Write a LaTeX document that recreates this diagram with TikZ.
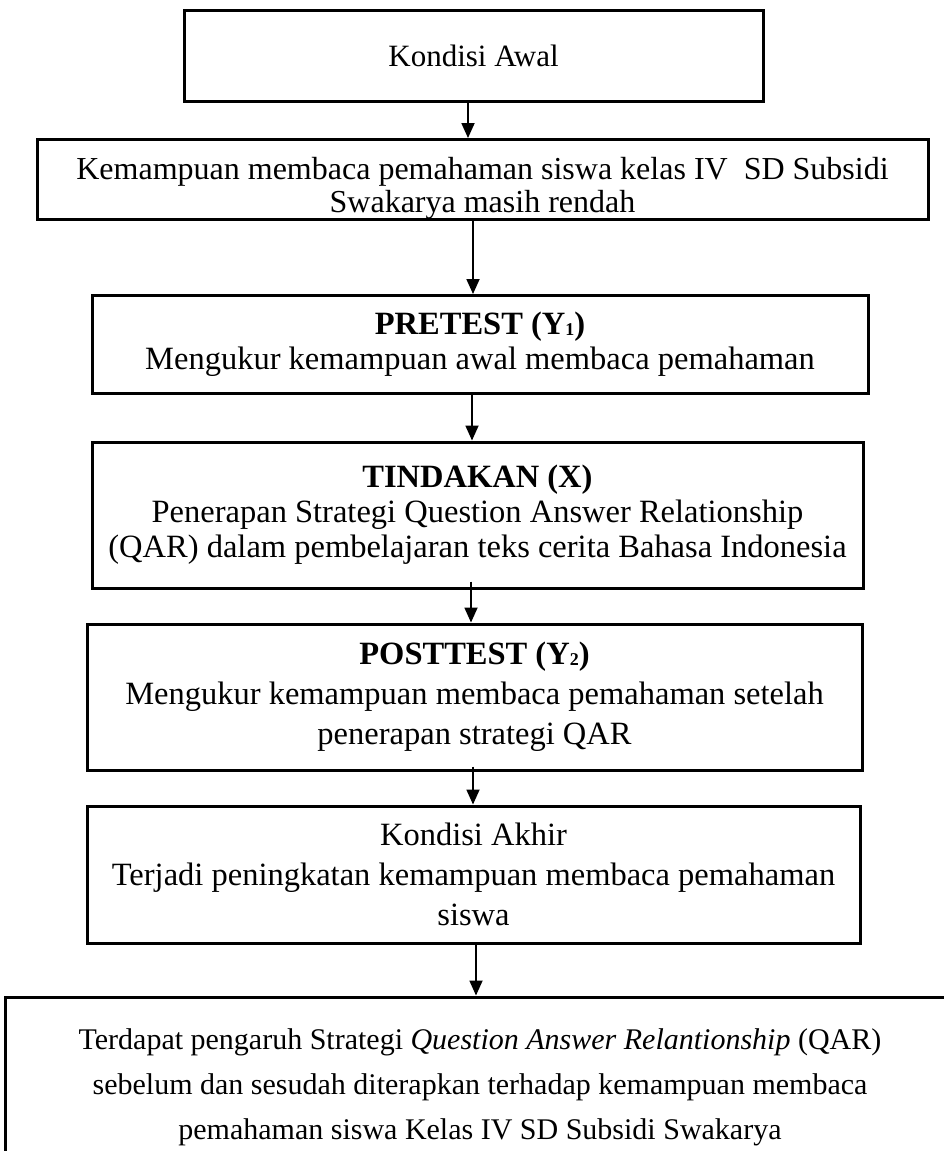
\documentclass[tikz,border=0pt]{standalone}
\usepackage{fontspec}
\setmainfont{Liberation Serif}
\usetikzlibrary{arrows.meta}
\newcommand{\lowsub}[1]{\raisebox{-1pt}{\fontsize{18}{18}\selectfont #1}}
\begin{document}
\begin{tikzpicture}[x=1pt,y=-1pt,
  box/.style={draw=black, line width=3pt, rectangle, inner sep=0pt, align=center},
  arr/.style={line width=1.8pt, -{Triangle[width=13pt,length=15pt]}}]
\useasboundingbox (0,0) rectangle (944,1151);
\clip (0,0) rectangle (944,1151);
\node[box, minimum width=579pt, minimum height=91pt, font=\fontsize{31}{35}\selectfont] (k1) at (473.5,55.5) {Kondisi Awal};
\node[box, minimum width=891pt, minimum height=77pt, font=\fontsize{32}{33}\selectfont] (k2) at (482.5,179.5) {\rule{0pt}{40pt}Kemampuan membaca pemahaman siswa kelas IV\ \ SD Subsidi\\Swakarya masih rendah};
\node[box, minimum width=776pt, minimum height=98pt, font=\fontsize{32.5}{35}\selectfont] (k3) at (480,344.5) {\textbf{PRETEST (Y\lowsub{1})}\\Mengukur kemampuan awal membaca pemahaman};
\node[box, minimum width=771pt, minimum height=146pt, font=\fontsize{32.5}{35}\selectfont] (k4) at (477.5,515) {\textbf{TINDAKAN (X)}\\Penerapan Strategi Question Answer Relationship\\(QAR) dalam pembelajaran teks cerita Bahasa Indonesia};
\node[box, minimum width=775pt, minimum height=146pt, font=\fontsize{32.5}{40}\selectfont] (k5) at (474.5,697) {\textbf{POSTTEST (Y\lowsub{2})}\\Mengukur kemampuan membaca pemahaman setelah\\penerapan strategi QAR};
\node[box, minimum width=773pt, minimum height=137pt, font=\fontsize{32.5}{40}\selectfont] (k6) at (473.5,874.5) {Kondisi Akhir\\Terjadi peningkatan kemampuan membaca pemahaman\\siswa};
\node[box, minimum width=950pt, minimum height=180pt, font=\fontsize{30}{45}\selectfont] (k7) at (480,1087) {Terdapat pengaruh Strategi \textit{Question Answer Relantionship} (QAR)\\sebelum dan sesudah diterapkan terhadap kemampuan membaca\\pemahaman siswa Kelas IV SD Subsidi Swakarya};
\coordinate (a1) at (468,0);
\coordinate (a2) at (473,0);
\coordinate (a3) at (472,0);
\coordinate (a4) at (471,0);
\coordinate (a5) at (473,0);
\coordinate (a6) at (476,0);
\draw[arr] (k1.south -| a1) -- (k2.north -| a1);
\draw[arr] (k2.south -| a2) -- (k3.north -| a2);
\draw[arr] (k3.south -| a3) -- (k4.north -| a3);
\draw[arr] ([yshift=8pt]k4.south -| a4) -- (k5.north -| a4);
\draw[arr] ([yshift=5pt]k5.south -| a5) -- (k6.north -| a5);
\draw[arr] (k6.south -| a6) -- (k7.north -| a6);
\end{tikzpicture}
\end{document}
